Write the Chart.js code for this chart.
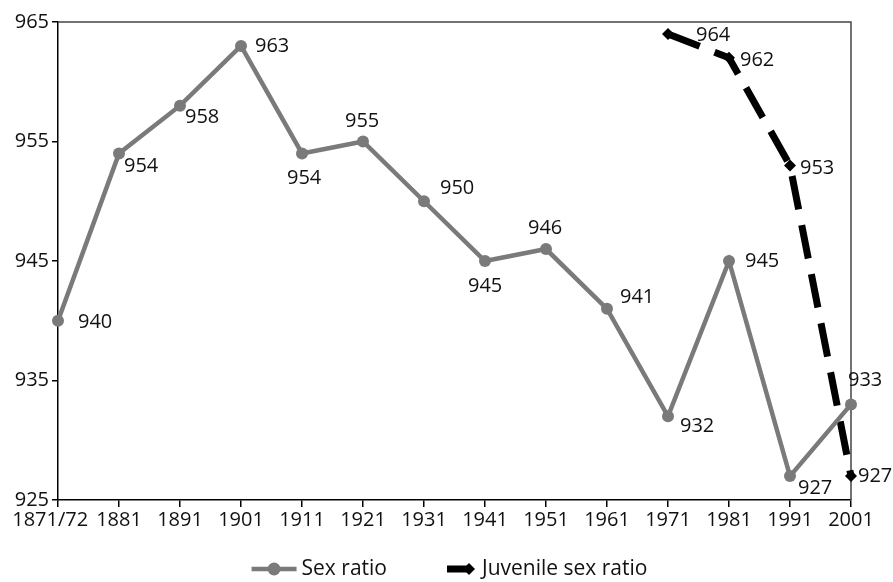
<!DOCTYPE html>
<html>
<head>
<meta charset="utf-8">
<script src="https://cdn.jsdelivr.net/npm/chart.js@4.4.0/dist/chart.umd.min.js"></script>
<style>
  html, body { margin: 0; padding: 0; background: #fff; }
  #wrap { width: 893px; height: 582px; }
</style>
</head>
<body>
<div id="wrap"><canvas id="ratioChart" width="893" height="582"></canvas></div>
<script>
// census years and ratios (females per 1000 males)
const years = ['1871/72', '1881', '1891', '1901', '1911', '1921', '1931', '1941', '1951', '1961', '1971', '1981', '1991', '2001'];
const sexRatio = [940, 954, 958, 963, 954, 955, 950, 945, 946, 941, 932, 945, 927, 933];
const juvenileRatio = [null, null, null, null, null, null, null, null, null, null, 964, 962, 953, 927];
const yTicks = [925, 935, 945, 955, 965];
const seriesNames = ['Sex ratio', 'Juvenile sex ratio'];

// where each value label sits relative to its point [dx, dy]
const sexLabelOffset = [[20, 2], [5, 13], [5, 12], [14, 0], [-15, 25], [-18, -20], [16, -13],
    [-17, 25], [-18, -21], [13, -12], [12, 10], [16, 0], [8, 12], [-3, -24]];
const juvLabelOffset = [null, null, null, null, null, null, null, null, null, null, [28, 1], [11, 2], [10, 3], [7, 0]];

const FONT = '"Open Sans", sans-serif';
const GREY = '#7a7a7a';

const valueLabels = {
    id: 'valueLabels',
    afterDatasetsDraw(chart) {
        let ctx = chart.ctx;
        ctx.save();
        ctx.font = '20px ' + FONT;
        ctx.fillStyle = '#111';
        ctx.textAlign = 'left';
        ctx.textBaseline = 'middle';
        const offsets = [sexLabelOffset, juvLabelOffset];
        chart.data.datasets.forEach((ds, i) => {
            let meta = chart.getDatasetMeta(i);
            meta.data.forEach((pt, j) => {
                if (ds.data[j] == null) return;
                let off = offsets[i][j];
                ctx.fillText(String(ds.data[j]), pt.x + off[0], pt.y + off[1]);
            });
        });
        ctx.restore();
    }
};

// thin frame on top and right of the plot
const frame = {
    id: 'frame',
    beforeDatasetsDraw(chart) {
        let a = chart.chartArea;
        let ctx = chart.ctx;
        ctx.save();
        ctx.strokeStyle = '#444';
        ctx.lineWidth = 1.5;
        ctx.beginPath();
        ctx.moveTo(a.left, a.top);
        ctx.lineTo(a.right, a.top);
        ctx.lineTo(a.right, a.bottom);
        ctx.stroke();
        ctx.restore();
    }
};

// legend under the axis: line+marker swatch then the series name
const seriesKey = {
    id: 'seriesKey',
    afterDraw(chart) {
        let ctx = chart.ctx;
        ctx.save();
        ctx.font = '21px ' + FONT;
        ctx.textBaseline = 'middle';
        ctx.textAlign = 'left';
        const swW = [45, 28];
        const gapText = [5, 7];
        const gapItem = 60;
        let widths = seriesNames.map((n, i) => swW[i] + gapText[i] + ctx.measureText(n).width);
        let total = widths[0] + gapItem + widths[1];
        let x = chart.width / 2 + 3 - total / 2;
        let y = 569;
        // sex ratio: grey line with round marker
        ctx.strokeStyle = GREY;
        ctx.fillStyle = GREY;
        ctx.lineWidth = 4.5;
        ctx.beginPath();
        ctx.moveTo(x, y); ctx.lineTo(x + swW[0], y);
        ctx.stroke();
        ctx.beginPath();
        ctx.arc(x + swW[0] / 2, y, 6.5, 0, Math.PI * 2);
        ctx.fill();
        ctx.fillStyle = '#111';
        ctx.fillText(seriesNames[0], x + swW[0] + gapText[0], y);
        x += widths[0] + gapItem;
        // juvenile: thick black bar with diamond tip
        ctx.strokeStyle = '#000';
        ctx.fillStyle = '#000';
        ctx.lineWidth = 7;
        ctx.beginPath();
        ctx.moveTo(x, y); ctx.lineTo(x + swW[1] - 6, y);
        ctx.stroke();
        ctx.beginPath();
        ctx.moveTo(x + swW[1], y); ctx.lineTo(x + swW[1] - 6, y - 6);
        ctx.lineTo(x + swW[1] - 12, y); ctx.lineTo(x + swW[1] - 6, y + 6);
        ctx.closePath();
        ctx.fill();
        ctx.fillStyle = '#111';
        ctx.fillText(seriesNames[1], x + swW[1] + gapText[1], y);
        ctx.restore();
    }
};

const ctx = document.getElementById('ratioChart').getContext('2d');
new Chart(ctx, {
    type: 'line',
    data: {
        labels: years,
        datasets: [{
            label: seriesNames[0],
            data: sexRatio,
            borderColor: GREY,
            backgroundColor: GREY,
            borderWidth: 4.5,
            pointRadius: 6,
            pointHoverRadius: 6,
            pointBackgroundColor: GREY,
            pointBorderWidth: 0,
            tension: 0,
            clip: false
        }, {
            label: seriesNames[1],
            data: juvenileRatio,
            borderColor: '#000',
            backgroundColor: '#000',
            borderWidth: 7,
            borderDash: [34, 16],
            pointStyle: 'rectRot',
            pointRadius: 6,
            pointBackgroundColor: '#000',
            pointBorderWidth: 0,
            spanGaps: false,
            tension: 0,
            clip: false
        }]
    },
    options: {
        responsive: false,
        animation: false,
        layout: { padding: { left: 0, right: 42, top: 22, bottom: 32 } },
        scales: {
            x: {
                offset: false,
                afterFit: (scale) => { scale.height = 50; },
                grid: { display: true, drawOnChartArea: false, tickLength: 7, color: '#000', lineWidth: 1.5 },
                border: { color: '#000', width: 1.5 },
                ticks: {
                    color: '#111',
                    font: { family: FONT, size: 20 },
                    padding: 1,
                    maxRotation: 0,
                    autoSkip: false,
                    // first label is wider, nudge it left of its tick
                    callback: (v, i) => i === 0 ? years[i] + '   ' : years[i]
                }
            },
            y: {
                min: 925,
                max: 965,
                afterBuildTicks: (scale) => { scale.ticks = yTicks.map(v => ({ value: v })); },
                afterFit: (scale) => { scale.width = 58; },
                grid: { display: true, drawOnChartArea: false, tickLength: 6, color: '#000', lineWidth: 1.5 },
                border: { color: '#000', width: 1.5 },
                ticks: { color: '#111', font: { family: FONT, size: 20 }, padding: 3 }
            }
        },
        plugins: {
            legend: { display: false },
            tooltip: { enabled: false }
        }
    },
    plugins: [frame, valueLabels, seriesKey]
});
</script>
</body>
</html>
